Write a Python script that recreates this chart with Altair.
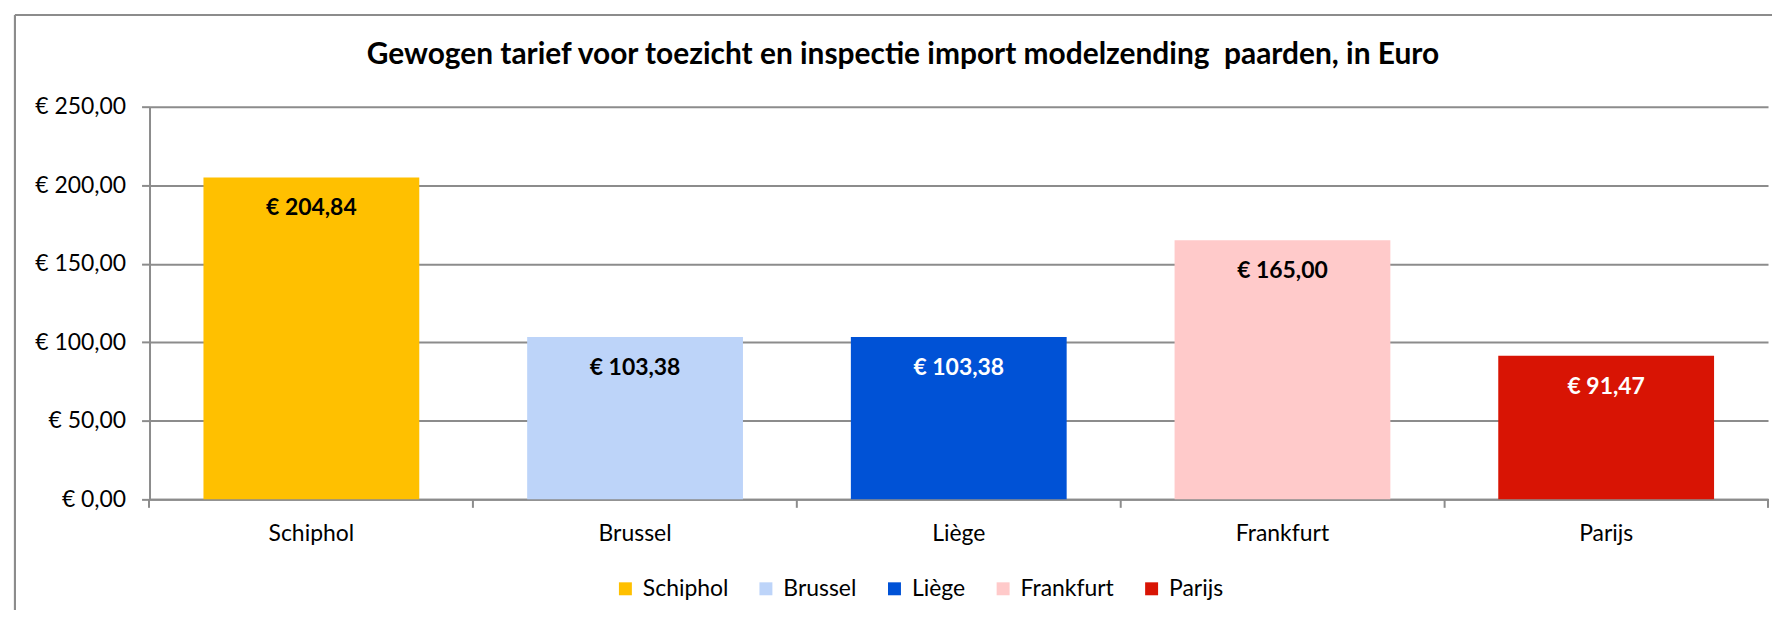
import altair as alt
import pandas as pd

cities = ["Schiphol", "Brussel", "Liège", "Frankfurt", "Parijs"]
tariffs = [204.84, 103.38, 103.38, 165.00, 91.47]
y_ticks = [0, 50, 100, 150, 200, 250]
# the original title has a double space; a no-break space keeps it visible in SVG
title_text = "Gewogen tarief voor toezicht en inspectie import modelzending\u00a0 paarden, in Euro"

bar_colors = ["#FFC000", "#BDD4F9", "#0052D6", "#FFCACA", "#D81404"]
white_label_cities = ["Liège", "Parijs"]

df = pd.DataFrame({"city": cities, "tariff": tariffs})

FONT = "Lato"
W, H = 1624, 394
GRID = "#8C8C8C"

fmt = "'€ ' + replace(format(datum.value, '.2f'), '.', ',')"

x = alt.X(
    "city:N",
    sort=cities,
    title=None,
    scale=alt.Scale(paddingInner=1 / 3, paddingOuter=1 / 6),
    axis=alt.Axis(
        labelAngle=0,
        labelFont=FONT,
        labelFontSize=23,
        labelColor="#000000",
        labelPadding=15,
        domainColor=GRID,
        domainWidth=2,
        tickColor=GRID,
        tickWidth=2,
        tickSize=8,
        bandPosition=-0.25,
    ),
)

y = alt.Y(
    "tariff:Q",
    title=None,
    scale=alt.Scale(domain=[0, 250], nice=False),
    axis=alt.Axis(
        values=y_ticks,
        labelExpr=fmt,
        labelFont=FONT,
        labelFontSize=23,
        labelColor="#000000",
        labelPadding=16,
        domainColor=GRID,
        domainWidth=2,
        tickColor=GRID,
        tickWidth=2,
        tickSize=8,
        gridColor=GRID,
        gridWidth=2,
    ),
)

bars = alt.Chart(df).mark_bar().encode(
    x=x,
    y=y,
    color=alt.Color(
        "city:N",
        sort=cities,
        scale=alt.Scale(domain=cities, range=bar_colors),
        legend=alt.Legend(
            title=None,
            orient="none",
            direction="horizontal",
            columns=5,
            legendX=466,
            legendY=472,
            symbolType="square",
            symbolSize=169,
            symbolStrokeWidth=0,
            labelFont=FONT,
            labelFontSize=23,
            labelColor="#000000",
            labelOffset=6,
            columnPadding=26,
        ),
    ),
)

labels = (
    alt.Chart(df)
    .transform_calculate(lbl="'€ ' + replace(format(datum.tariff, '.2f'), '.', ',')")
    .mark_text(font=FONT, fontSize=23, fontWeight="bold", baseline="middle", dy=31)
    .encode(
        x=alt.X("city:N", sort=cities),
        y=alt.Y("tariff:Q"),
        text="lbl:N",
        color=alt.condition(
            alt.FieldOneOfPredicate(field="city", oneOf=white_label_cities),
            alt.value("#FFFFFF"),
            alt.value("#000000"),
        ),
    )
)

title_df = pd.DataFrame({"t": [title_text]})
title = (
    alt.Chart(title_df)
    .mark_text(font=FONT, fontSize=30, fontWeight="bold", color="#000000",
               align="center", baseline="middle")
    .encode(text="t:N", x=alt.value(756), y=alt.value(-52))
)

# outer chart frame (decoration)
frame_left = alt.Chart(df).mark_rule(color=GRID, strokeWidth=2).encode(
    x=alt.value(-135), y=alt.value(-92), y2=alt.value(H + 200)
)
frame_top = alt.Chart(df).mark_rule(color=GRID, strokeWidth=2).encode(
    x=alt.value(-135), x2=alt.value(W + 40), y=alt.value(-92)
)
end_tick = alt.Chart(df).mark_rule(color=GRID, strokeWidth=2).encode(
    x=alt.value(W), y=alt.value(H), y2=alt.value(H + 8)
)

chart = (
    alt.layer(frame_left, frame_top, title, bars, labels, end_tick)
    .properties(
        width=W,
        height=H,
        autosize=alt.AutoSizeParams(type="none"),
        padding={"left": 142, "top": 98, "right": 4, "bottom": 110},
    )
    .configure_view(stroke=None)
    .configure_axis(grid=False)
    .configure_axisY(grid=True)
)

chart.save("out.html", embed_options={"renderer": "svg", "actions": False})
